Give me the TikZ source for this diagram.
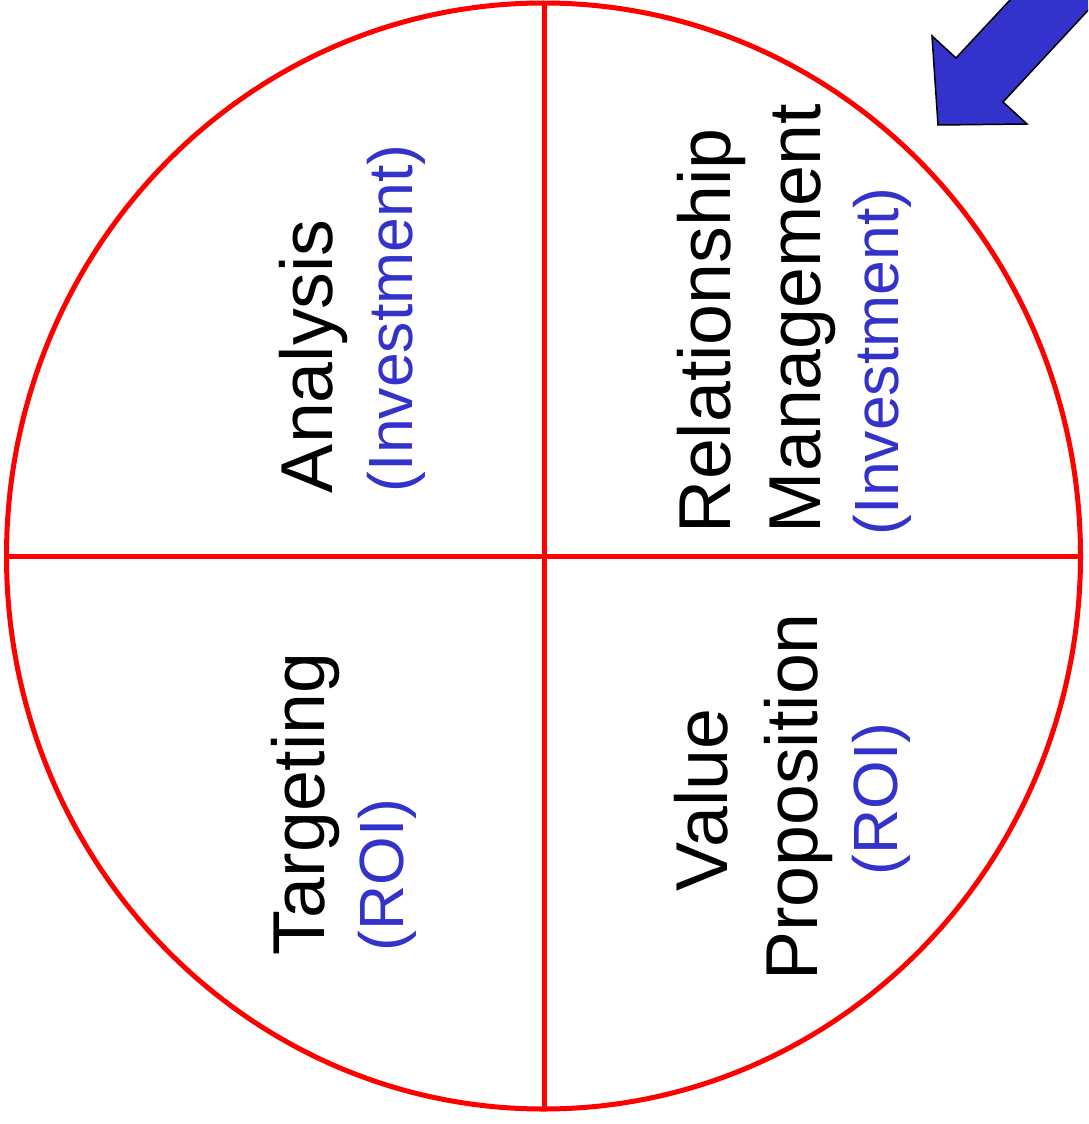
\documentclass[tikz,border=0pt]{standalone}
\usepackage{fontspec}
\setmainfont{Liberation Sans}
\usetikzlibrary{shapes.geometric}
\definecolor{ringred}{RGB}{255,0,0}
\definecolor{labelblue}{RGB}{51,51,204}
\begin{document}
\begin{tikzpicture}[x=1pt,y=-1pt,
  bigtext/.style={rotate=90,inner sep=0pt,outer sep=0pt,text=black,font=\fontsize{73.5}{88}\selectfont},
  subtext/.style={rotate=90,inner sep=0pt,outer sep=0pt,text=labelblue,font=\fontsize{62.5}{74}\selectfont},
  ring/.style={draw=ringred,line width=5pt},
  divider/.style={draw=ringred,line width=5pt}]
\useasboundingbox (0,0) rectangle (1088,1124);
\clip (0,0) rectangle (1088,1124);
% circle
\node[ring,ellipse,minimum width=1074pt,minimum height=1106pt,inner sep=0pt,outer sep=0pt] (circ) at (543.5,556) {};
\coordinate (vtop) at (544,3);
\coordinate (vbot) at (544,1109);
\draw[divider] (vtop) -- (vbot);
\draw[divider] (circ.west) -- (circ.east);
% arrow
\draw[fill=labelblue,draw=black,line width=1.5pt,line join=miter]
  (938,125) -- (932,36) -- (956,58) -- (1064,-58) -- (1143,-49) -- (1003,102) -- (1027,124) -- cycle;
% Analysis
\node[bigtext,anchor=base west] (ana) at (332,493) {Analysis};
\node[subtext,anchor=base west] (anainv) at (412,492) {(Investment)};
% Relationship Management
\node[bigtext,anchor=base west] (rel) at (730,533) {Relationship};
\node[bigtext,anchor=base west] (man) at (820,533) {Management};
\node[subtext,anchor=base west] (relinv) at (898,535) {(Investment)};
% Targeting
\node[bigtext,anchor=base west] (tar) at (324,955) {Targeting};
\node[subtext,anchor=base west] (tarroi) at (403,951) {(ROI)};
% Value Proposition
\node[bigtext,anchor=base] (val) at (727,800) {Value};
\node[bigtext,anchor=base] (prop) at (817,797) {Proposition};
\node[subtext,anchor=base] (valroi) at (897,799) {(ROI)};
\end{tikzpicture}
\end{document}
